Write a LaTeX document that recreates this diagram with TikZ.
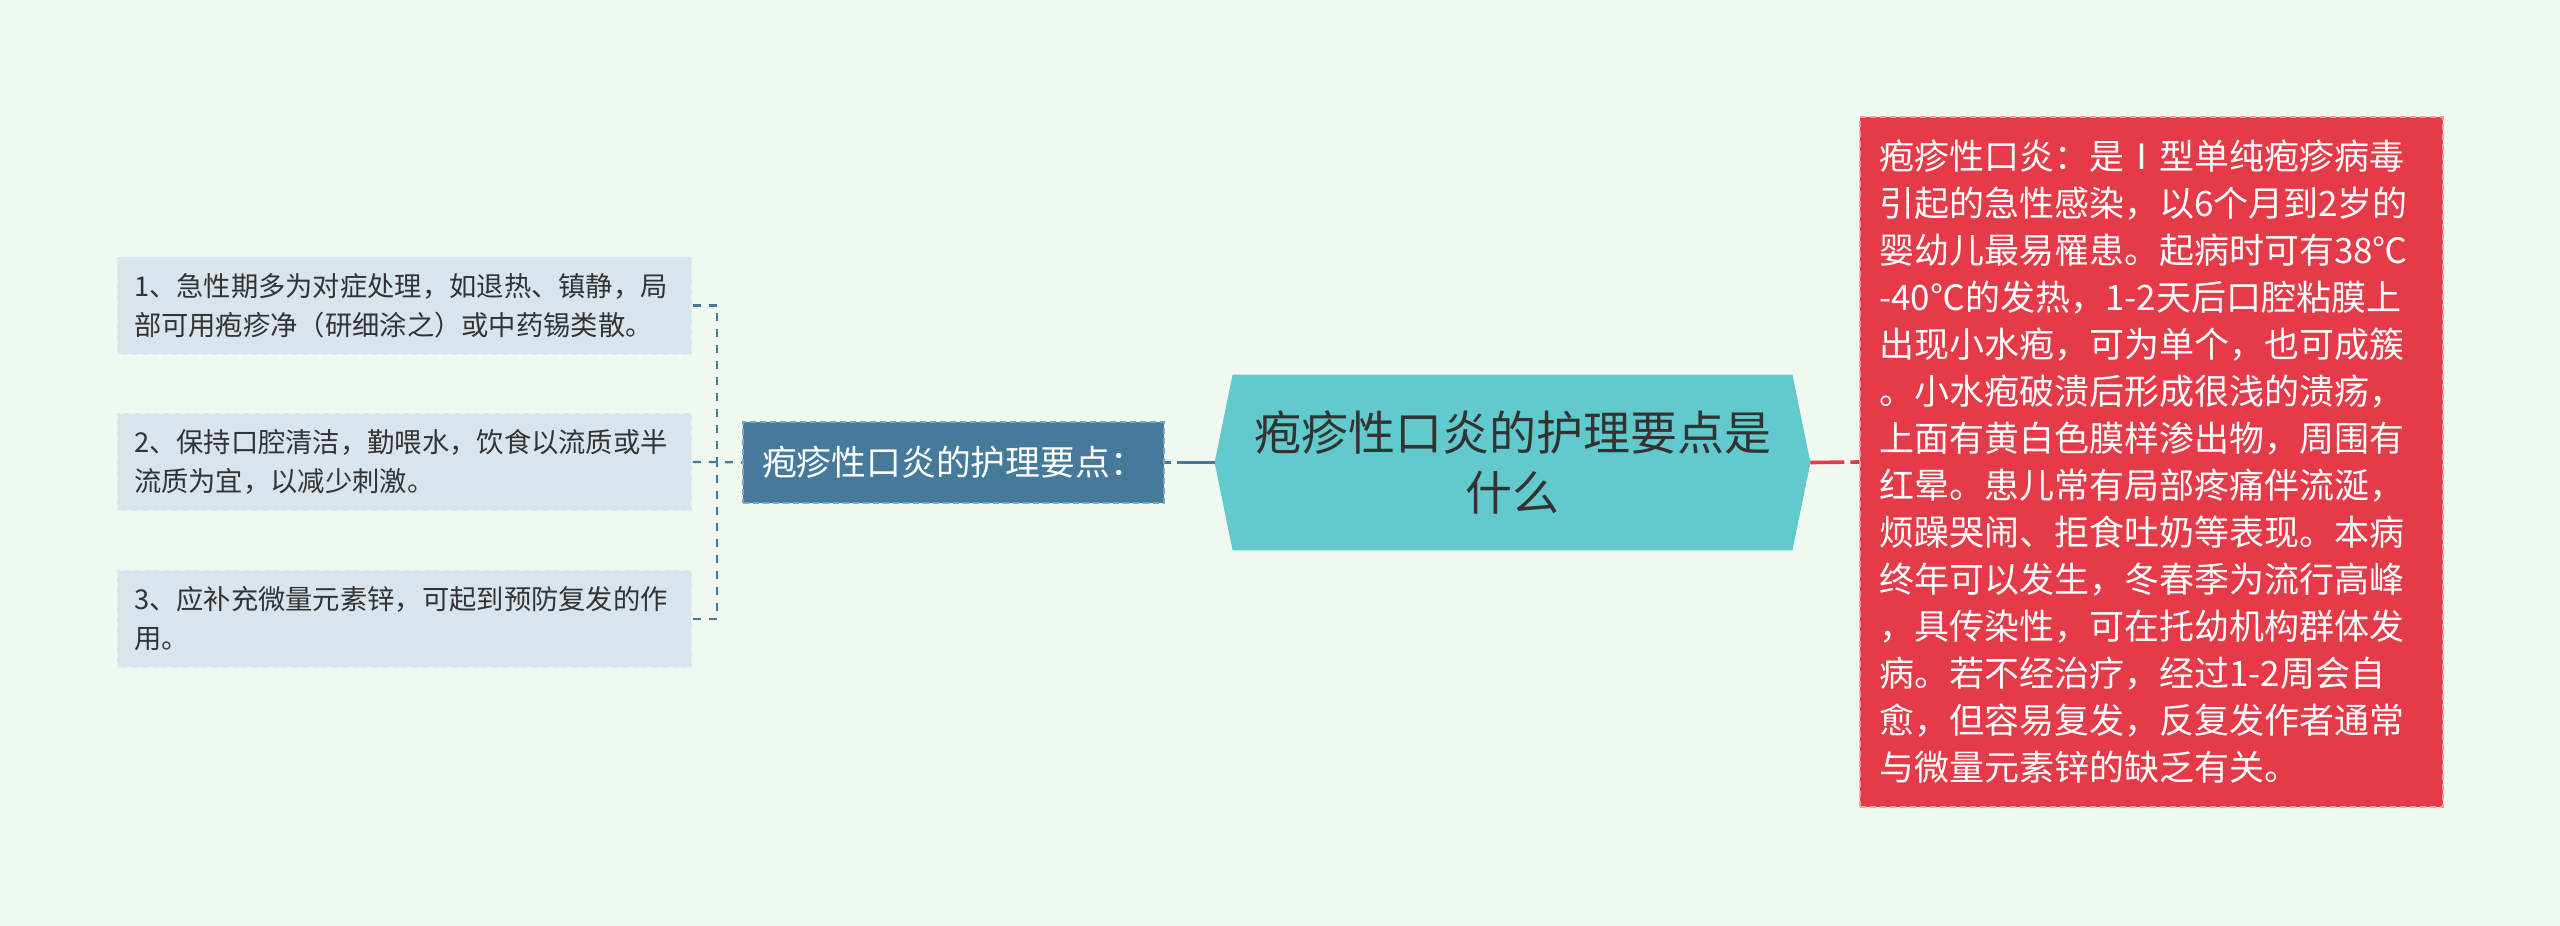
\documentclass[tikz,border=0pt]{standalone}
\usepackage{fontspec}
\setmainfont{Noto Sans CJK SC}
\usetikzlibrary{calc}
\pgfdeclarelayer{background}
\pgfsetlayers{background,main}
\definecolor{bgc}{HTML}{F0F9EF}
\definecolor{leaffill}{HTML}{D9E4EC}
\definecolor{leafdraw}{HTML}{EDF2F5}
\definecolor{bluec}{HTML}{457A9B}
\definecolor{bluedraw}{HTML}{7FA5BF}
\definecolor{hubfill}{HTML}{62CACC}
\definecolor{redc}{HTML}{E53A47}
\definecolor{reddraw}{HTML}{F5A0A6}
\definecolor{textdark}{HTML}{333333}
\begin{document}
\begin{tikzpicture}[x=0.5pt,y=-0.5pt,
  leafbox/.style={draw=leafdraw, fill=leaffill, dash pattern=on 3pt off 2pt, line width=0.8pt,
    minimum height=49pt, inner xsep=8.5pt, inner ysep=0pt, text width=270.5pt, align=left,
    font=\fontsize{13.65pt}{19.5pt}\selectfont, text=textdark},
  midbox/.style={draw=bluedraw, fill=bluec, dash pattern=on 3pt off 2pt, line width=0.8pt,
    minimum width=210.5pt, minimum height=40.5pt, inner sep=0pt, align=center,
    font=\fontsize{17.4pt}{21pt}\selectfont, text=white},
  hubtext/.style={minimum width=297.5pt, minimum height=87.5pt, inner sep=0pt, align=center,
    font=\fontsize{23.5pt}{30pt}\selectfont, text=textdark},
  infobox/.style={draw=reddraw, fill=redc, dash pattern=on 3pt off 2pt, line width=0.8pt,
    minimum height=345pt, inner xsep=9.5pt, inner ysep=0pt, text width=272.5pt, align=left,
    font=\fontsize{17.5pt}{23.5pt}\selectfont, text=white},
  lconn/.style={draw=bluec, line width=1.1pt, dash pattern=on 4pt off 4pt},
  bconn/.style={draw=bluec, line width=1.8pt, dash pattern=on 19pt off 3pt},
  rconn/.style={draw=redc, line width=1.8pt, dash pattern=on 17pt off 3pt}]
\begin{pgfonlayer}{background}
\fill[bgc] (0,0) rectangle (2560,926);
\end{pgfonlayer}
\useasboundingbox (0,0) rectangle (2560,926);

% left leaves
\node[leafbox] (b1) at (404.5,305.5) {1、急性期多为对症处理，如退热、镇静，局\\部可用疱疹净（研细涂之）或中药锡类散。};
\node[leafbox] (b2) at (404.5,462) {2、保持口腔清洁，勤喂水，饮食以流质或半\\流质为宜，以减少刺激。};
\node[leafbox] (b3) at (404.5,619) {3、应补充微量元素锌，可起到预防复发的作\\用。};

% middle
\node[midbox] (mid) at (953.5,462.5) {疱疹性口炎的护理要点：};

% hub
\node[hubtext] (hub) at (1512.5,462.5) {疱疹性口炎的护理要点是\\什么};
\begin{pgfonlayer}{background}
\fill[hubfill] (hub.west) -- ($(hub.north west)+(18,0)$) -- ($(hub.north east)+(-18,0)$)
  -- (hub.east) -- ($(hub.south east)+(-18,0)$) -- ($(hub.south west)+(18,0)$) -- cycle;
\end{pgfonlayer}

% right info
\node[infobox] (info) at (2151.5,462) {疱疹性口炎：是Ⅰ型单纯疱疹病毒\\引起的急性感染，以6个月到2岁的\\婴幼儿最易罹患。起病时可有38℃\\-40℃的发热，1-2天后口腔粘膜上\\出现小水疱，可为单个，也可成簇\\。小水疱破溃后形成很浅的溃疡，\\上面有黄白色膜样渗出物，周围有\\红晕。患儿常有局部疼痛伴流涎，\\烦躁哭闹、拒食吐奶等表现。本病\\终年可以发生，冬春季为流行高峰\\，具传染性，可在托幼机构群体发\\病。若不经治疗，经过1-2周会自\\愈，但容易复发，反复发作者通常\\与微量元素锌的缺乏有关。};

% connectors
\coordinate (j) at (717,462);
\draw[lconn] (b1.east) -| (j);
\draw[lconn] (b3.east) -| (j);
\draw[lconn] (b2.east) -- (j) -- (mid.west);
\draw[bconn] (hub.west) -- (mid.east);
\draw[rconn] (hub.east) -- (info.west);
\end{tikzpicture}
\end{document}
